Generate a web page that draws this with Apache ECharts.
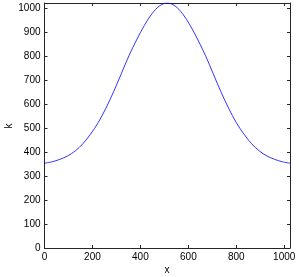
<!DOCTYPE html>
<html>
<head>
<meta charset="utf-8">
<script src="https://cdn.jsdelivr.net/npm/echarts@6/dist/echarts.min.js"></script>
<style>
html,body{margin:0;padding:0;background:#fff;}
#c{width:299px;height:277px;}
</style>
</head>
<body>
<div id="c"></div>
<script>
// data
var xValues = [0,32,64,96,128,160,192,224,256,288,320,352,384,416,448,480,512,544,576,608,640,672,704,736,768,800,832,864,896,928,960,992,1024];
var kValues = [353,359,369,383,404,434,474,522,582,650,725,800,866,926,975,1008,1020,1008,975,926,866,800,725,650,582,522,474,434,404,383,369,359,353];
var xTicks = [0,200,400,600,800,1000];
var yTicks = [0,100,200,300,400,500,600,700,800,900,1000];
var xName = 'x';
var yName = 'k';

var data = xValues.map(function(x,i){return [x,kValues[i]];});
var font = 'Liberation Sans, Arial, Helvetica, sans-serif';
var axColor = '#262626';

var chart = echarts.init(document.getElementById('c'), null, {renderer:'canvas'});
function axisCommon(showLabel){
  return {
    axisLine:{show:true,onZero:false,lineStyle:{color:axColor,width:1}},
    axisTick:{show:true,inside:true,length:3,lineStyle:{color:axColor,width:1}},
    splitLine:{show:false},
    axisLabel:{show:showLabel,color:'#000',fontFamily:font,fontSize:10,margin:4,showMaxLabel:false,
      formatter:function(v){return String(v);}}
  };
}
var xa = axisCommon(true);
var xb = axisCommon(false);
var ya = axisCommon(true);
var yb = axisCommon(false);
chart.setOption({
  animation:false,
  grid:{left:44.5,right:9,top:3,bottom:29,containLabel:false,outerBoundsMode:'none'},
  xAxis:[
    Object.assign({type:'value',position:'bottom',min:0,max:1024,interval:200},xa),
    Object.assign({type:'value',position:'top',min:0,max:1024,interval:200},xb)
  ],
  yAxis:[
    Object.assign({type:'value',position:'left',min:0,max:1020,interval:100},ya),
    Object.assign({type:'value',position:'right',min:0,max:1020,interval:100},yb)
  ],
  graphic:[
    {type:'text',x:167,y:270,style:{text:xName,fill:'#000',font:'10px '+font,align:'center',verticalAlign:'middle'}},
    {type:'text',x:9,y:126,rotation:Math.PI/2,style:{text:yName,fill:'#000',font:'10px '+font,align:'center',verticalAlign:'middle'}}
  ],
  series:[{
    type:'line',
    data:data,
    smooth:0.35,
    showSymbol:false,
    lineStyle:{color:'#0000ff',width:0.8},
    xAxisIndex:0,yAxisIndex:0
  }]
});
</script>
</body>
</html>
